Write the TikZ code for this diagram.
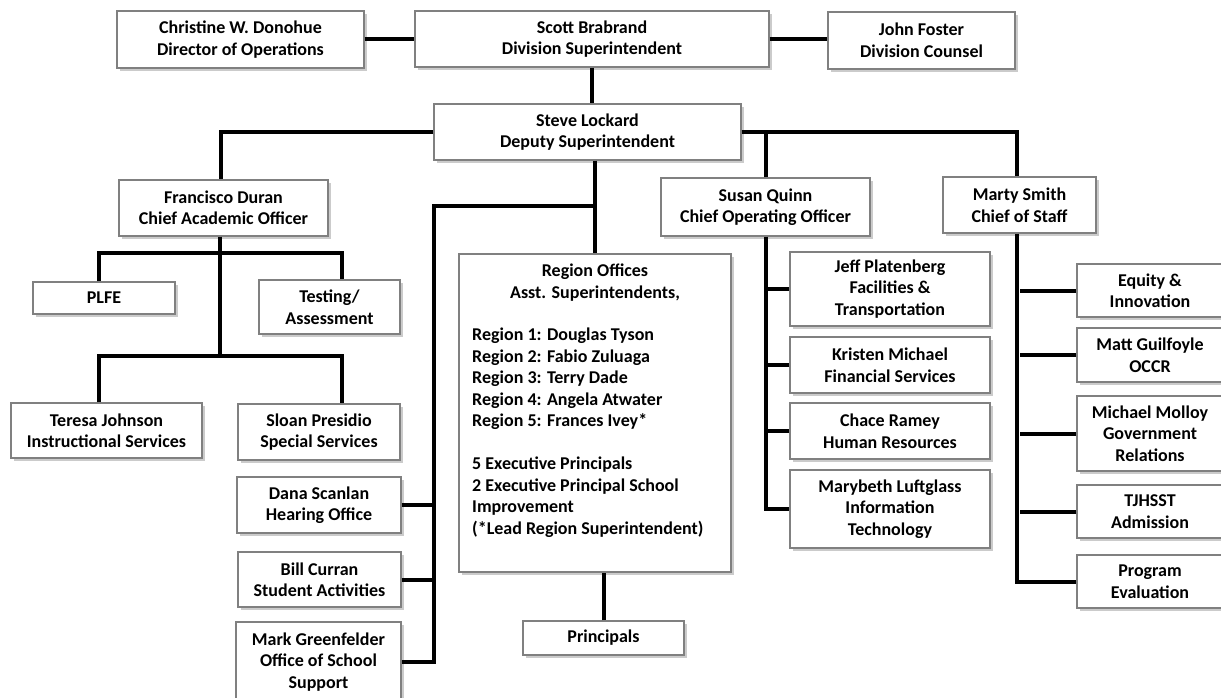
\documentclass[tikz,border=0pt]{standalone}
\usepackage{fontspec}
\setmainfont{Carlito}
\usetikzlibrary{shadows, calc, positioning}
\tikzset{
    orgBox/.style={rectangle, draw=black!50, line width=1.2pt, fill=white, align=center, inner sep=2pt,
        font=\fontsize{18}{21.5}\selectfont\bfseries,
        drop shadow={shadow xshift=3pt, shadow yshift=-3pt, fill=black!40, opacity=0.5}},
    orgText/.style={inner sep=0pt, font=\fontsize{18}{21.5}\selectfont\bfseries},
    orgLink/.style={line width=4pt, black},
}
% box: [style]{name}{x,y}{width}{height}{text}
\newcommand{\orgNode}[6][orgBox]{
    \node[#1, minimum width=#4pt, minimum height=#5pt] (#2) at (#3) {#6};
}
% straight link from an anchor across to the line of another
\newcommand{\hLink}[2]{
    \draw[orgLink] (#1) -- (#1 -| #2);
}
\newcommand{\vLink}[2]{
    \draw[orgLink] (#1) -- (#1 |- #2);
}

\begin{document}
\begin{tikzpicture}[x=1pt, y=-1pt]

    \fill[white] (0,0) rectangle (1221,698);
    \useasboundingbox (0,0) rectangle (1221,698);

    % top row
    \orgNode{donohue}{240.5,39.5}{247}{57}{Christine W. Donohue\\Director of Operations}
    \orgNode{brabrand}{592,39}{354}{56}{Scott Brabrand\\Division Superintendent}
    \orgNode{foster}{921.5,40.5}{187}{57}{John Foster\\Division Counsel}
    \orgNode{lockard}{587.5,132}{307}{56}{Steve Lockard\\Deputy Superintendent}

    \hLink{donohue.east}{brabrand.west}
    \hLink{brabrand.east}{foster.west}
    \vLink{brabrand.south}{lockard.north}

    % chiefs
    \orgNode{duran}{223.5,208}{209}{56}{Francisco Duran\\Chief Academic Officer}
    \orgNode{quinn}{765.5,207}{209}{58}{Susan Quinn\\Chief Operating Officer}
    \orgNode{smith}{1019.5,205}{153}{56}{Marty Smith\\Chief of Staff}

    \draw[orgLink] (lockard.west) -| ([xshift=-2.5pt]duran.north);
    \draw[orgLink] (lockard.east) -| ([xshift=-2.5pt]smith.north);
    \vLink{quinn.north}{lockard.east}

    % academic
    \orgNode{plfe}{104,298}{142}{32}{PLFE}
    \orgNode{testing}{329.5,307}{141}{54}{Testing/\\Assessment}
    \orgNode{johnson}{106.5,430.5}{191}{55}{Teresa Johnson\\Instructional Services}
    \orgNode{presidio}{319,432}{162}{56}{Sloan Presidio\\Special Services}

    \coordinate (acadBar1) at (220,253);
    \coordinate (acadBar2) at (220,356);
    \draw[orgLink] ([xshift=-3.5pt]duran.south) -- (acadBar2);
    \draw[orgLink] ([xshift=-5pt]plfe.north) |- (acadBar1) -| ([xshift=12.5pt]testing.north);
    \draw[orgLink] ([xshift=-7.5pt]johnson.north) |- (acadBar2) -| ([xshift=23pt]presidio.north);

    % offices off the deputy
    \orgNode{scanlan}{319,505}{164}{56}{Dana Scanlan\\Hearing Office}
    \orgNode{curran}{319.5,579.5}{163}{55}{Bill Curran\\Student Activities}
    \orgNode{greenfelder}{318.5,662}{165}{80}{Mark Greenfelder\\Office of School\\Support}

    \coordinate (deputyJoin) at (595,206);
    \coordinate (officeTop) at (434,206);
    \draw[orgLink] (deputyJoin) -- (officeTop) |- (greenfelder.east);
    \hLink{scanlan.east}{officeTop}
    \hLink{curran.east}{officeTop}

    % regions
    \orgNode{region}{595,413}{272}{318}{}
    \node[orgText, align=center, anchor=north] (regionHead) at (595,264) {Region Offices\\Asst. Superintendents,};
    \node[orgText, align=left, anchor=north west] (regionList) at (472,328) {Region 1: Douglas Tyson\\Region 2: Fabio Zuluaga\\Region 3: Terry Dade\\Region 4: Angela Atwater\\Region 5: Frances Ivey*\\[21.5pt]5 Executive Principals\\2 Executive Principal School\\Improvement\\(*Lead Region Superintendent)};
    \orgNode{principals}{603.5,638}{161}{34}{Principals}

    \draw[orgLink] (lockard.south -| region.north) -- (region.north);
    \vLink{principals.north}{region.south}

    % operations
    \orgNode{platenberg}{890,289}{200}{74}{Jeff Platenberg\\Facilities \&\\Transportation}
    \orgNode{kmichael}{890,365}{200}{56}{Kristen Michael\\Financial Services}
    \orgNode{ramey}{890,431}{200}{56}{Chace Ramey\\Human Resources}
    \orgNode{luftglass}{890,509}{200}{78}{Marybeth Luftglass\\Information\\Technology}

    \draw[orgLink] (quinn.south) |- (luftglass.west);
    \hLink{platenberg.west}{quinn.south}
    \hLink{kmichael.west}{quinn.south}
    \hLink{ramey.west}{quinn.south}

    % staff
    \orgNode{equity}{1150,290.5}{146}{53}{Equity \&\\Innovation}
    \orgNode{guilfoyle}{1150,355}{146}{54}{Matt Guilfoyle\\OCCR}
    \orgNode{molloy}{1150,433.5}{146}{75}{Michael Molloy\\Government\\Relations}
    \orgNode{tjhsst}{1150,511.5}{146}{53}{TJHSST\\Admission}
    \orgNode{program}{1150,581.5}{146}{53}{Program\\Evaluation}

    \draw[orgLink] ([xshift=-2.5pt]smith.south) |- (program.west);
    \hLink{equity.west}{smith.south}
    \hLink{guilfoyle.west}{smith.south}
    \hLink{molloy.west}{smith.south}
    \hLink{tjhsst.west}{smith.south}

\end{tikzpicture}
\end{document}
